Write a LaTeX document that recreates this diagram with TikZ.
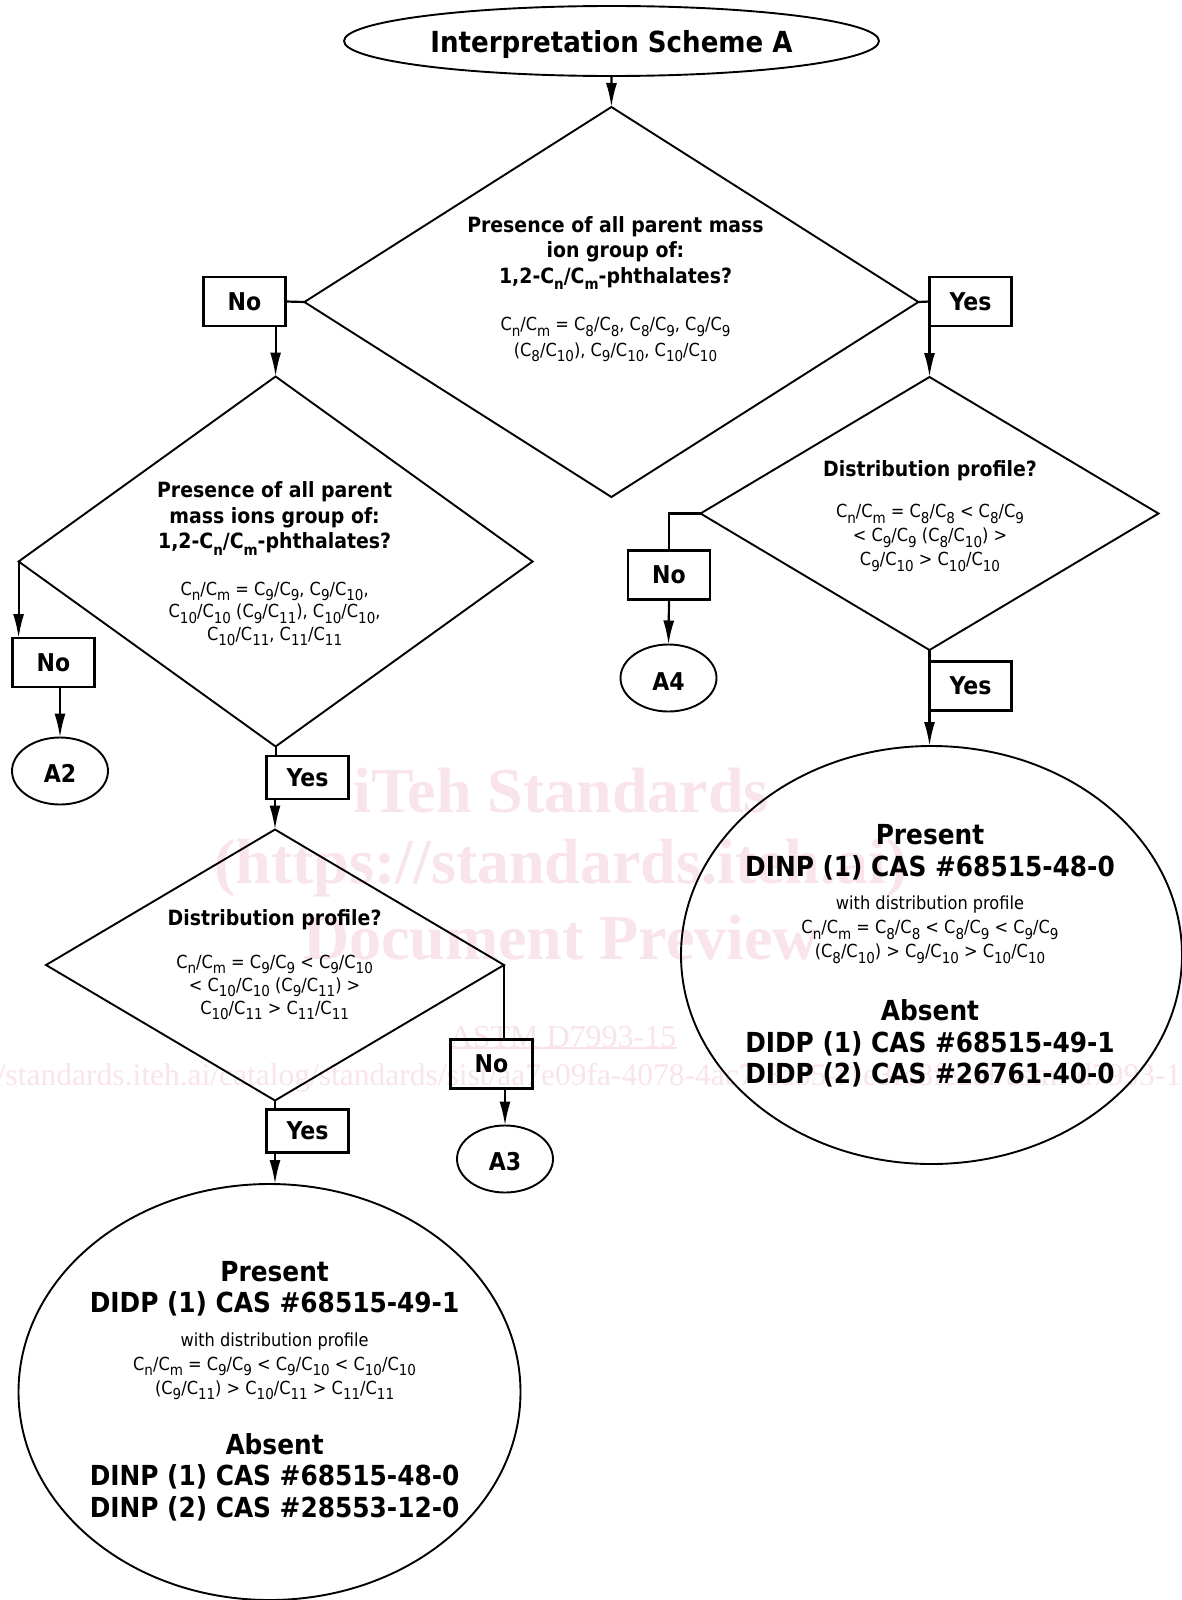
\documentclass[tikz,border=0pt]{standalone}
\usepackage{fontspec}
\setmainfont{DejaVu Sans Condensed}[BoldFont={DejaVu Sans Condensed Bold}]
\newfontfamily\wmfont{Liberation Serif}
\usetikzlibrary{shapes.geometric,arrows.meta}
\definecolor{wm}{HTML}{F9E4EA}
\newcommand{\lsb}[1]{\raisebox{-0.3em}{\fontsize{15}{15}\selectfont #1}}
\newcommand{\cc}[2]{C\lsb{#1}/C\lsb{#2}}
\tikzset{
  x=1pt,y=-1pt,
  line/.style={draw=black,line width=2.2pt},
  arr/.style={line,-{Latex[length=24pt,width=11pt]}},
  dec/.style={shape=diamond,draw=black,line width=1.9pt,inner sep=0pt,outer sep=0pt},
  oval/.style={shape=ellipse,draw=black,line width=1.9pt,inner sep=0pt,outer sep=0pt},
  lab/.style={draw=black,line width=2.4pt,minimum width=82pt,inner sep=0pt,outer sep=0pt,font=\fontsize{24.5}{28}\selectfont\bfseries},
  txt/.style={align=center,inner sep=0pt,font=\fontsize{19}{25.5}\selectfont},
  wmt/.style={text=wm,inner sep=0pt,font=\wmfont},
}
\newcommand{\bl}{\fontsize{21}{25.5}\selectfont\bfseries}
\newcommand{\rg}{\fontsize{18}{25.5}\selectfont\mdseries}
\newcommand{\bg}{\fontsize{27.6}{25.5}\selectfont\bfseries}
\begin{document}
\begin{tikzpicture}
\useasboundingbox (0,0) rectangle (1182,1600);
\fill[white] (0,0) rectangle (1182,1600);
% watermark
\begin{scope}
\clip (0,0) rectangle (1182,1600);
\node[wmt,font=\wmfont\bfseries\fontsize{64}{64}\selectfont] (wa) at (561,791) {iTeh Standards};
\node[wmt,font=\wmfont\bfseries\fontsize{64}{64}\selectfont] (wb) at (561,868) {(https://standards.iteh.ai)};
\node[wmt,font=\wmfont\bfseries\fontsize{64}{64}\selectfont] (wc) at (561,938) {Document Preview};
\node[wmt,font=\wmfont\fontsize{32}{32}\selectfont] (wd) at (563,1037) {ASTM D7993-15};
\draw[wm,line width=1.5pt] (wd.south west) -- (wd.south east);
\node[wmt,anchor=west,font=\wmfont\fontsize{31.5}{32}\selectfont] (we) at (-82,1078) {https://standards.iteh.ai/catalog/standards/sist/aa7e09fa-4078-4ac7-8a35-f1e3fc8fe2af/astm-d7993-15};
\end{scope}
% shapes
\node[oval,minimum width=535pt,minimum height=70pt] (title) at (611.5,41) {};
\node[txt,font=\fontsize{29}{32}\selectfont\bfseries] (titlet) at (611.5,45) {Interpretation Scheme A};
\node[dec,minimum width=614pt,minimum height=390pt] (d1) at (611.4,302) {};
\node[dec,minimum width=514pt,minimum height=370pt] (d2) at (275.6,561.5) {};
\node[dec,minimum width=458pt,minimum height=273pt] (d3) at (929.5,513.5) {};
\node[dec,minimum width=458pt,minimum height=271pt] (d4) at (275,965) {};
\node[lab,minimum height=49pt] (no1) at (244.5,301.5) {No};
\node[lab,minimum height=49pt] (yes1) at (970.5,301.5) {Yes};
\node[lab,minimum height=49pt] (no2) at (53.5,662.5) {No};
\node[lab,minimum height=43pt] (yes2) at (307.5,777.5) {Yes};
\node[lab,minimum height=49pt] (no3) at (669,575) {No};
\node[lab,minimum height=49pt] (yes3) at (970.5,686) {Yes};
\node[lab,minimum height=49pt] (no4) at (491.5,1064) {No};
\node[lab,minimum height=43pt] (yes4) at (307.5,1131) {Yes};
\node[oval,minimum width=96pt,minimum height=67pt,font=\fontsize{24.5}{28}\selectfont\bfseries] (a2) at (60,771) {\rule{0pt}{23pt}A2};
\node[oval,minimum width=96pt,minimum height=67pt,font=\fontsize{24.5}{28}\selectfont\bfseries] (a3) at (505,1159) {\rule{0pt}{23pt}A3};
\node[oval,minimum width=96pt,minimum height=67pt,font=\fontsize{24.5}{28}\selectfont\bfseries] (a4) at (668.5,678) {\rule{0pt}{24pt}A4};
\node[oval,minimum width=501pt,minimum height=418pt] (r1) at (931.5,955) {};
\node[oval,minimum width=502pt,minimum height=416pt] (r2) at (269.5,1392) {};
% texts
\node[txt] (t1) at (615.5,289) {\bl Presence of all parent mass\\\bl ion group of:\\\bl 1,2-\cc{n}{m}-phthalates?\\[22pt]\rg \cc{n}{m} = \cc{8}{8}, \cc{8}{9}, \cc{9}{9}\\\rg (\cc{8}{10}), \cc{9}{10}, \cc{10}{10}};
\node[txt] (t2) at (274.6,564) {\bl Presence of all parent\\\bl mass ions group of:\\\bl 1,2-\cc{n}{m}-phthalates?\\[21pt]\rg \cc{n}{m} = \cc{9}{9}, \cc{9}{10},\\[-3pt]\rg \cc{10}{10} (\cc{9}{11}), \cc{10}{10},\\[-3pt]\rg \cc{10}{11}, \cc{11}{11}};
\node[txt] (t3) at (930,516) {\bl Distribution profile?\\[16pt]\rg \cc{n}{m} = \cc{8}{8} < \cc{8}{9}\\[-1.5pt]\rg < \cc{9}{9} (\cc{8}{10}) >\\[-1.5pt]\rg \cc{9}{10} > \cc{10}{10}};
\node[txt] (t4) at (274.6,965) {\bl Distribution profile?\\[17pt]\rg \cc{n}{m} = \cc{9}{9} < \cc{9}{10}\\[-2.5pt]\rg < \cc{10}{10} (\cc{9}{11}) >\\[-2.5pt]\rg \cc{10}{11} > \cc{11}{11}};
\node[txt] (t5) at (930,956) {\bg Present\\[6pt]\bg DINP (1) CAS \#68515-48-0\\[8pt]\rg with distribution profile\\[-1.5pt]\rg \cc{n}{m} = \cc{8}{8} < \cc{8}{9} < \cc{9}{9}\\[-1.5pt]\rg (\cc{8}{10}) > \cc{9}{10} > \cc{10}{10}\\[35pt]\bg Absent\\[6pt]\bg DIDP (1) CAS \#68515-49-1\\[6pt]\bg DIDP (2) CAS \#26761-40-0};
\node[txt] (t6) at (274.6,1391) {\bg Present\\[6pt]\bg DIDP (1) CAS \#68515-49-1\\[8pt]\rg with distribution profile\\[-1.5pt]\rg \cc{n}{m} = \cc{9}{9} < \cc{9}{10} < \cc{10}{10}\\[-1.5pt]\rg (\cc{9}{11}) > \cc{10}{11} > \cc{11}{11}\\[32pt]\bg Absent\\[6pt]\bg DINP (1) CAS \#68515-48-0\\[6pt]\bg DINP (2) CAS \#28553-12-0};
% connectors
\draw[arr] (title.south) -- (d1.north);
\draw[line] (d1.west) -- (no1.east);
\draw[line] (d1.east) -- (yes1.west);
\draw[arr] (no1.south -| d2.north) -- (d2.north);
\draw[arr] (yes1.south -| d3.north) -- (d3.north);
\draw[arr] (d2.west) -- (no2.north -| d2.west);
\draw[arr] (no2.south -| a2.north) -- (a2.north);
\draw[line] (d2.south) -- (yes2.north -| d2.south);
\draw[arr] (yes2.south -| d4.north) -- (d4.north);
\draw[line] (d3.west) -| (no3.north);
\draw[arr] (no3.south) -- (a4.north);
\draw[line] (d3.south) -- (yes3.north -| d3.south);
\draw[arr] (yes3.south -| d3.south) -- (r1.north -| d3.south);
\draw[line] (d4.east) -- (no4.north -| d4.east);
\draw[arr] (no4.south -| a3.north) -- (a3.north);
\draw[line] (d4.south) -- (yes4.north -| d4.south);
\draw[arr] (yes4.south -| d4.south) -- (r2.north -| d4.south);
\end{tikzpicture}
\end{document}
